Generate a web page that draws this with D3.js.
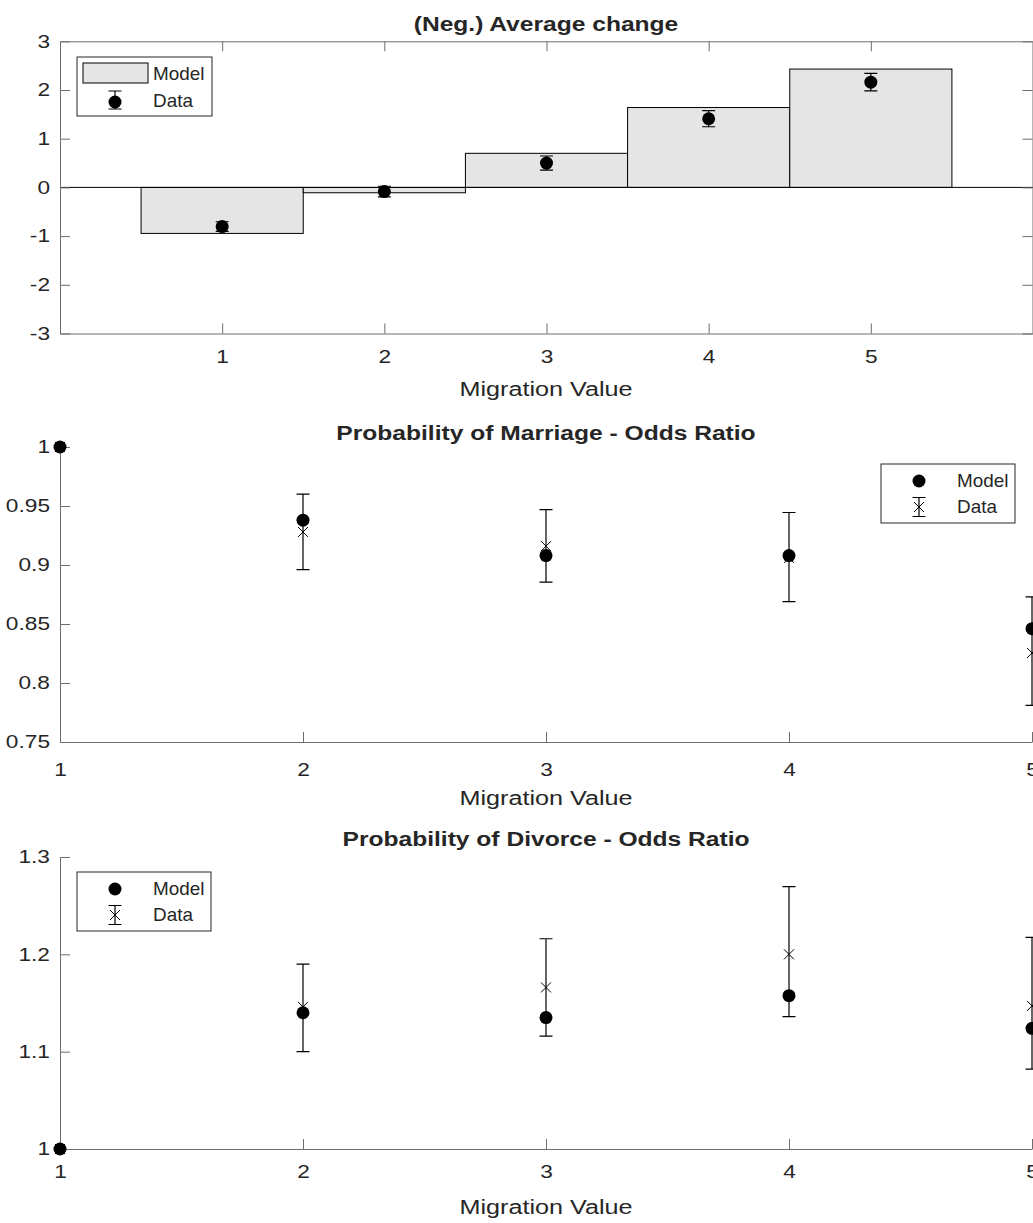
<!DOCTYPE html>
<html><head><meta charset="utf-8">
<script src="https://cdn.jsdelivr.net/npm/d3@7"></script>
<style>body{margin:0;background:#fff} text{font-family:"Liberation Sans",Arial,Helvetica,sans-serif;fill:#262626}</style>
</head><body><svg id="c" width="1033" height="1223"></svg>
<script>
const categories=[1,2,3,4,5];
const avgModel=[-0.945,-0.11,0.70,1.64,2.43];
const avgData=[-0.805,-0.086,0.50,1.41,2.16];
const avgErr=[0.10,0.11,0.145,0.165,0.18];
const marrModel=[1,0.938,0.908,0.908,0.846];
const marrData=[1,0.928,0.916,0.906,0.8255];
const marrLow=[1,0.896,0.8855,0.869,0.781];
const marrHigh=[1,0.960,0.947,0.9445,0.873];
const divModel=[1,1.140,1.135,1.1575,1.124];
const divData=[1,1.146,1.166,1.200,1.147];
const divLow=[1,1.100,1.116,1.136,1.082];
const divHigh=[1,1.190,1.216,1.2695,1.2175];
const avgYTicks=[-3,-2,-1,0,1,2,3];
const marrYTicks=[0.75,0.8,0.85,0.9,0.95,1];
const divYTicks=[1,1.1,1.2,1.3];
const titles=["(Neg.) Average change","Probability of Marriage - Odds Ratio","Probability of Divorce - Odds Ratio"];
const xLabel="Migration Value";
const legendLabels=["Model","Data"];

const TICK_FS=18, TICK_SX=1.26;
const LAB_FS=21, LAB_SX=1.2;
const TIT_FS=20.5, TIT_SX=1.2;
const LEG_FS=18, LEG_SX=1.05;
const svg=d3.select("#c");
const AX="#6e6e6e";
const fmt=d=>String(+(+d).toFixed(2));   // plain hyphen for negatives

function stretchText(sel,sx){
  sel.each(function(){
    const t=d3.select(this);
    const x=+t.attr("x")||0;
    t.attr("x",0).attr("transform",`translate(${x},0) scale(${sx},1)`);
  });
}
function label(g,x,y,txt,size,weight,anchor,sx){
  g.append("text").attr("transform",`translate(${x},${y}) scale(${sx},1)`)
   .attr("text-anchor",anchor||"middle").attr("dy","0.35em")
   .style("font-size",size+"px").style("font-weight",weight||"normal").text(txt);
}
function styleAxis(g,fs){
  g.select(".domain").attr("stroke",AX);
  g.selectAll(".tick line").attr("stroke",AX);
  g.selectAll(".tick text").style("font-size",fs+"px").attr("fill","#262626");
}
function cross(g,cx,cy){
  const s=5;
  g.append("path").attr("d",`M${cx-s},${cy-s}L${cx+s},${cy+s}M${cx-s},${cy+s}L${cx+s},${cy-s}`)
   .attr("stroke","#000").attr("stroke-width",1).attr("fill","none");
}
function errbar(g,cx,y0,y1,cw){
  g.append("path").attr("d",`M${cx},${y0}L${cx},${y1}M${cx-cw/2},${y0}L${cx+cw/2},${y0}M${cx-cw/2},${y1}L${cx+cw/2},${y1}`)
   .attr("stroke","#000").attr("stroke-width",1.2).attr("fill","none");
}

/* ---------- Panel 1 ---------- */
{
  const x=d3.scaleLinear().domain([0,6]).range([60,1033]);
  const y=d3.scaleLinear().domain([-3,3]).range([333.5,41.3]);
  const g=svg.append("g");
  g.selectAll("rect.bar").data(categories).join("rect").attr("class","bar")
   .attr("x",d=>x(d-0.5)).attr("width",x(1)-x(0))
   .attr("y",(d,i)=>Math.min(y(0),y(avgModel[i])))
   .attr("height",(d,i)=>Math.abs(y(avgModel[i])-y(0)))
   .attr("fill","#e5e5e5").attr("stroke","#000").attr("stroke-width",1);
  g.append("line").attr("x1",60).attr("x2",1033).attr("y1",y(0)).attr("y2",y(0)).attr("stroke","#000");
  categories.forEach((c,i)=>{
    errbar(g,x(c),y(avgData[i]+avgErr[i]),y(avgData[i]-avgErr[i]),13);
  });
  g.selectAll("circle.d").data(categories).join("circle").attr("class","d")
   .attr("cx",d=>x(d)).attr("cy",(d,i)=>y(avgData[i])).attr("r",6.5).attr("fill","#000");
  const ax=g.append("g").attr("transform",`translate(0,${y(-3)})`)
    .call(d3.axisBottom(x).tickValues(categories).tickFormat(fmt).tickSizeInner(-10).tickSizeOuter(0).tickPadding(17));
  styleAxis(ax,TICK_FS); stretchText(ax.selectAll(".tick text"),TICK_SX);
  const ay=g.append("g").attr("transform",`translate(60,0)`)
    .call(d3.axisLeft(y).tickValues(avgYTicks).tickFormat(fmt).tickSizeInner(-10).tickSizeOuter(0).tickPadding(10));
  styleAxis(ay,TICK_FS); stretchText(ay.selectAll(".tick text"),TICK_SX);
  const at=g.append("g").attr("transform",`translate(0,${y(3)})`)
    .call(d3.axisTop(x).tickValues(categories).tickFormat("").tickSizeInner(-10).tickSizeOuter(0));
  styleAxis(at,10);
  const ar=g.append("g").attr("transform",`translate(1032.5,0)`)
    .call(d3.axisRight(y).tickValues(avgYTicks).tickFormat("").tickSizeInner(-10).tickSizeOuter(0));
  styleAxis(ar,10);
  label(g,546,24,titles[0],TIT_FS,"bold","middle",TIT_SX);
  label(g,546,389,xLabel,LAB_FS,"normal","middle",LAB_SX);
  const L=g.append("g");
  L.append("rect").attr("x",77).attr("y",57).attr("width",135).attr("height",59).attr("fill","#fff").attr("stroke","#262626");
  L.append("rect").attr("x",83).attr("y",63).attr("width",65).attr("height",20).attr("fill","#e5e5e5").attr("stroke","#000");
  errbar(L,115,91,109,13);
  L.append("circle").attr("cx",115).attr("cy",102).attr("r",6.5).attr("fill","#000");
  label(L,153,74,legendLabels[0],LEG_FS,"normal","start",LEG_SX);
  label(L,153,101,legendLabels[1],LEG_FS,"normal","start",LEG_SX);
}

/* ---------- Panels 2 & 3 ---------- */
function oddsPanel(o){
  const x=d3.scaleLinear().domain([1,5]).range([60,1032]);
  const y=d3.scaleLinear().domain(o.ydom).range(o.yr);
  const g=svg.append("g");
  const ax=g.append("g").attr("transform",`translate(0,${o.yr[0]})`)
    .call(d3.axisBottom(x).tickValues(categories).tickFormat(fmt).tickSizeInner(-10).tickSizeOuter(0).tickPadding(o.xpad));
  styleAxis(ax,TICK_FS); stretchText(ax.selectAll(".tick text"),TICK_SX);
  const ay=g.append("g").attr("transform",`translate(60,0)`)
    .call(d3.axisLeft(y).tickValues(o.yticks).tickFormat(fmt).tickSizeInner(-10).tickSizeOuter(0).tickPadding(10));
  styleAxis(ay,TICK_FS); stretchText(ay.selectAll(".tick text"),TICK_SX);
  categories.forEach((c,i)=>{
    if(o.hi[i]!==o.lo[i]) errbar(g,x(c),y(o.hi[i]),y(o.lo[i]),13);
    cross(g,x(c),y(o.data[i]));
  });
  g.selectAll("circle.m").data(categories).join("circle").attr("class","m")
   .attr("cx",d=>x(d)).attr("cy",(d,i)=>y(o.model[i])).attr("r",6.5).attr("fill","#000");
  label(g,546,o.titleY,o.title,TIT_FS,"bold","middle",TIT_SX);
  label(g,546,o.xlabY,xLabel,LAB_FS,"normal","middle",LAB_SX);
  const L=g.append("g");
  const lx=o.leg[0], ly=o.leg[1];
  L.append("rect").attr("x",lx).attr("y",ly).attr("width",134).attr("height",59).attr("fill","#fff").attr("stroke","#262626");
  L.append("circle").attr("cx",lx+38).attr("cy",ly+17).attr("r",6.5).attr("fill","#000");
  errbar(L,lx+38,ly+33.5,ly+52.5,13);
  cross(L,lx+38,ly+43);
  label(L,lx+76,ly+17,legendLabels[0],LEG_FS,"normal","start",LEG_SX);
  label(L,lx+76,ly+43,legendLabels[1],LEG_FS,"normal","start",LEG_SX);
}
oddsPanel({ydom:[0.75,1],yr:[742,447],yticks:marrYTicks,model:marrModel,data:marrData,lo:marrLow,hi:marrHigh,
  title:titles[1],titleY:433,xlabY:798,xpad:21,leg:[881,464]});
oddsPanel({ydom:[1,1.3],yr:[1149,857],yticks:divYTicks,model:divModel,data:divData,lo:divLow,hi:divHigh,
  title:titles[2],titleY:839,xlabY:1207,xpad:16,leg:[77,872]});
</script></body></html>
